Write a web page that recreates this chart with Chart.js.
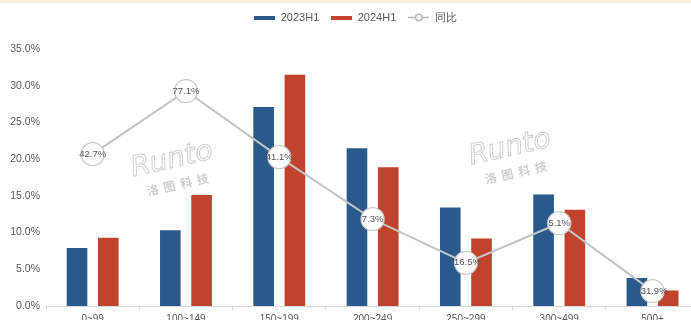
<!DOCTYPE html>
<html>
<head>
<meta charset="utf-8">
<script src="https://cdn.jsdelivr.net/npm/chart.js@4.4.1/dist/chart.umd.min.js"></script>
<style>
  html, body { margin: 0; padding: 0; background: #fff; overflow: hidden; }
  #wrap { position: relative; width: 691px; height: 320px; overflow: hidden; }
  #topline { position: absolute; left: 0; top: 0; width: 691px; height: 3px; background: #fcefdc; z-index: 2; }
  #myChart { position: absolute; left: 0; top: 0; }
</style>
</head>
<body>
<div id="wrap">
  <div id="topline"></div>
  <canvas id="myChart" width="712" height="332"></canvas>
</div>
<script>
// 价格段分布（份额）与同比
const labels = ['0~99', '100~149', '150~199', '200~249', '250~299', '300~499', '500+'];
const share2023 = [7.9, 10.3, 27.1, 21.5, 13.4, 15.2, 3.8];
const share2024 = [9.3, 15.1, 31.5, 18.9, 9.2, 13.1, 2.1];
const yoy = [42.7, 77.1, 41.1, 7.3, -16.5, 5.1, -31.9];

const BLUE = '#2a5a8c';
const RED = '#c1432d';
const GREY = '#c4c4c4';

// 图例小图标
function swatch(color) {
    const c = document.createElement('canvas');
    c.width = 21; c.height = 4;
    const g = c.getContext('2d');
    g.fillStyle = color;
    g.fillRect(0, 0, 21, 4);
    return c;
}
function lineSwatch() {
    const c = document.createElement('canvas');
    c.width = 21; c.height = 9;
    const g = c.getContext('2d');
    g.strokeStyle = '#b8b8b8';
    g.lineWidth = 1.5;
    g.beginPath(); g.moveTo(0, 4.5); g.lineTo(21, 4.5); g.stroke();
    g.fillStyle = '#fff';
    g.beginPath(); g.arc(10.5, 4.5, 3.2, 0, Math.PI * 2); g.fill(); g.stroke();
    return c;
}

// 图例下方留白
const legendGap = {
    id: 'legendGap',
    beforeInit(chart) {
        const fit = chart.legend.fit;
        chart.legend.fit = function () {
            fit.bind(chart.legend)();
            this.height += 16;
        };
    }
};

// 水印
const watermark = {
    id: 'watermark',
    beforeDatasetsDraw(chart) {
        const ctx = chart.ctx;
        [[174, 170], [512, 158]].forEach(([x, y]) => {
            ctx.save();
            ctx.translate(x, y);
            ctx.rotate(-0.22);
            ctx.textAlign = 'center';
            ctx.textBaseline = 'middle';
            ctx.strokeStyle = '#d0d0d0';
            ctx.lineWidth = 1;
            ctx.font = 'italic 300 28px "DejaVu Sans"';
            ctx.strokeText('Runto', 0, -10);
            ctx.fillStyle = '#cfcfcf';
            ctx.font = 'bold 12px "Noto Sans CJK SC"';
            ['洛', '图', '科', '技'].forEach((ch, i) => ctx.fillText(ch, -25 + i * 17, 15));
            ctx.restore();
        });
    }
};

// 同比数值标签
const yoyLabels = {
    id: 'yoyLabels',
    afterDatasetsDraw(chart) {
        const ctx = chart.ctx;
        const meta = chart.getDatasetMeta(2);
        ctx.save();
        ctx.font = '9.5px "Liberation Sans Narrow", "Liberation Sans", sans-serif';
        ctx.fillStyle = '#555';
        ctx.textAlign = 'center';
        ctx.textBaseline = 'middle';
        meta.data.forEach((pt, i) => {
            ctx.fillText(yoy[i].toFixed(1) + '%', pt.x, pt.y);
        });
        ctx.restore();
    }
};

const ctx = document.getElementById('myChart').getContext('2d');
const myChart = new Chart(ctx, {
    type: 'bar',
    data: {
        labels: labels,
        datasets: [{
            label: '2023H1',
            data: share2023,
            backgroundColor: BLUE,
            categoryPercentage: 0.67,
            barPercentage: 0.66,
            yAxisID: 'y',
            order: 1
        }, {
            label: '2024H1',
            data: share2024,
            backgroundColor: RED,
            categoryPercentage: 0.67,
            barPercentage: 0.66,
            yAxisID: 'y',
            order: 1
        }, {
            type: 'line',
            label: '同比',
            data: yoy,
            borderColor: GREY,
            borderWidth: 2,
            pointRadius: 11.5,
            pointBackgroundColor: '#fff',
            pointBorderColor: '#cbcbcb',
            pointBorderWidth: 1.3,
            tension: 0,
            yAxisID: 'y2',
            order: 0
        }]
    },
    options: {
        responsive: false,
        animation: false,
        layout: { padding: { left: 2, right: 3, top: 0, bottom: 0 } },
        plugins: {
            tooltip: { enabled: false },
            legend: {
                position: 'top',
                labels: {
                    usePointStyle: true,
                    pointStyleWidth: 21,
                    padding: 12,
                    color: '#595959',
                    font: { size: 11, family: '"Liberation Sans Narrow", "Liberation Sans", sans-serif' },
                    sort: (a, b) => a.datasetIndex - b.datasetIndex,
                    generateLabels(chart) {
                        const icons = [swatch(BLUE), swatch(RED), lineSwatch()];
                        return chart.data.datasets.map((ds, i) => ({
                            text: ds.label,
                            pointStyle: icons[i],
                            fillStyle: '#fff',
                            strokeStyle: '#fff',
                            lineWidth: 0,
                            fontColor: '#595959',
                            hidden: false,
                            datasetIndex: i
                        }));
                    }
                }
            }
        },
        scales: {
            x: {
                grid: { display: true, drawOnChartArea: false, tickLength: 4, color: '#d9d9d9' },
                border: { color: '#d9d9d9' },
                ticks: { padding: 3, color: '#595959', font: { size: 10, family: '"Liberation Sans", sans-serif' } },
                afterFit(scale) { scale.height = 26; }
            },
            y: {
                min: 0,
                max: 35,
                grid: { display: false, drawTicks: false },
                border: { display: false },
                ticks: {
                    stepSize: 5,
                    padding: 6,
                    color: '#595959',
                    font: { size: 10.5, family: '"Liberation Sans", sans-serif' },
                    callback: v => v.toFixed(1) + '%'
                },
                afterFit(scale) { scale.width = 44; }
            },
            y2: {
                display: false,
                min: -40,
                max: 100
            }
        }
    },
    plugins: [legendGap, watermark, yoyLabels]
});
</script>
</body>
</html>
